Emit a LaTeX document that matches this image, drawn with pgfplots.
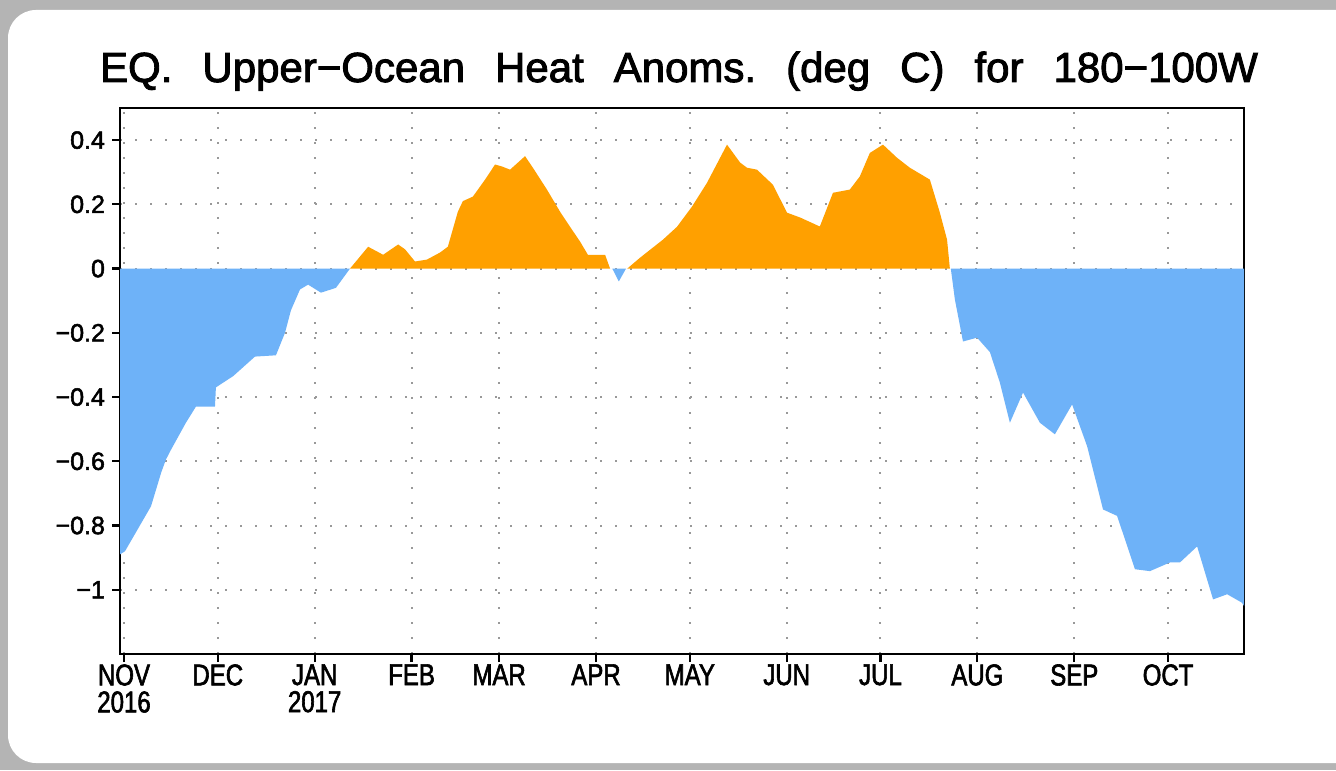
\documentclass[border=0pt]{standalone}
\usepackage{pgfplots}
\pgfplotsset{compat=1.18}
\usepackage{fontspec}
\setmainfont[FakeBold=2]{Liberation Sans}
\newfontfamily\narrowfont[FakeStretch=0.8,FakeBold=2]{Liberation Sans}
\newfontfamily\titlefont[FakeBold=2.2]{Liberation Sans}
\definecolor{cblue}{RGB}{110,178,248}
\definecolor{corange}{RGB}{255,160,0}
\definecolor{cframe}{RGB}{180,180,180}
\begin{document}
\begin{tikzpicture}
\useasboundingbox (0,0) rectangle (668pt,385pt);
\fill[cframe] (0,0) rectangle (668pt,385pt);
\fill[white, rounded corners=14pt] (4pt,3.5pt) rectangle (700pt,380pt);
\node[anchor=base, inner sep=0pt, font=\titlefont\fontsize{21}{24}\selectfont] at (339.5pt,344pt)
  {EQ.\hspace{15pt}Upper−Ocean\hspace{15pt}Heat\hspace{15pt}Anoms.\hspace{15pt}(deg\hspace{15pt}C)\hspace{15pt}for\hspace{15pt}180−100W};
\begin{axis}[
  at={(60pt,58pt)}, anchor=south west,
  scale only axis, width=562pt, height=273pt,
  xmin=-1.28, xmax=358.3, ymin=-1.2, ymax=0.5,
  axis line style={line width=1.1pt},
  xtick={0,30,61,92,120,151,181,212,242,273,304,334},
  xticklabels={{NOV\\2016},DEC,{JAN\\2017},FEB,MAR,APR,MAY,JUN,JUL,AUG,SEP,OCT},
  xticklabel style={align=center, anchor=north, inner sep=1pt, font=\narrowfont\fontsize{15}{13.5}\selectfont},
  ytick={-1,-0.8,-0.6,-0.4,-0.2,0,0.2,0.4},
  yticklabels={−1,−0.8,−0.6,−0.4,−0.2,0,0.2,0.4},
  yticklabel style={font=\fontsize{12.5}{14}\selectfont},
  tick align=outside, xtick pos=left, ytick pos=left,
  major tick length=4pt,
  tick style={line width=1.1pt, black},
  grid=major,
  major grid style={black!40, line width=1pt, dash pattern=on 1pt off 6.5pt},
]
\addplot[fill=cblue, draw=none] coordinates {
(-1.28,0) (-1.28,-0.89) (0.32,-0.88) (4.48,-0.81) (8.64,-0.74) (11.9,-0.635) (13.4,-0.595) (14.7,-0.57) (19.8,-0.48) (23.0,-0.43) (29.1,-0.43) (29.4,-0.37) (33.3,-0.345) (34.9,-0.335) (41.9,-0.274) (48.6,-0.27) (51.5,-0.20) (53.4,-0.13) (56.3,-0.065) (58.9,-0.05) (63.0,-0.075) (67.8,-0.06) (72.3,0)
} -- cycle;
\addplot[fill=corange, draw=none] coordinates {
(72.3,0) (78.1,0.068) (82.9,0.043) (87.7,0.075) (89.9,0.06) (93.1,0.022) (96.9,0.028) (101.1,0.05) (103.6,0.068) (106.8,0.177) (108.4,0.21) (111.6,0.224) (115.5,0.277) (118.7,0.324) (120.9,0.318) (123.5,0.308) (128.3,0.35) (130.8,0.314) (135.3,0.246) (139.5,0.177) (142.7,0.13) (145.9,0.084) (148.4,0.043) (153.9,0.043) (155.5,0)
} -- cycle;
\addplot[fill=cblue, draw=none] coordinates {
(156.2,0) (158.3,-0.04) (160.6,0)
} -- cycle;
\addplot[fill=corange, draw=none] coordinates {
(161.0,0) (165.1,0.034) (172.4,0.09) (176.9,0.13) (181.7,0.193) (186.5,0.267) (192.9,0.386) (197.1,0.33) (199.3,0.314) (202.5,0.308) (207.6,0.261) (212.1,0.174) (216.3,0.159) (222.6,0.131) (226.8,0.236) (232.2,0.246) (235.4,0.287) (238.6,0.36) (242.8,0.386) (247.3,0.345) (251.4,0.314) (257.8,0.277) (261.0,0.174) (263.3,0.09) (264.2,0)
} -- cycle;
\addplot[fill=cblue, draw=none] coordinates {
(264.5,0) (265.8,-0.096) (268.4,-0.227) (272.9,-0.215) (277.0,-0.26) (280.2,-0.355) (283.4,-0.48) (287.6,-0.386) (293.0,-0.48) (297.8,-0.516) (303.3,-0.423) (308.1,-0.553) (313.2,-0.75) (317.7,-0.77) (323.4,-0.936) (328.2,-0.942) (334.6,-0.915) (337.8,-0.915) (343.3,-0.865) (348.4,-1.03) (352.9,-1.014) (357.6,-1.04) (358.3,-1.05) (358.3,0)
} -- cycle;
\end{axis}
\end{tikzpicture}
\end{document}
